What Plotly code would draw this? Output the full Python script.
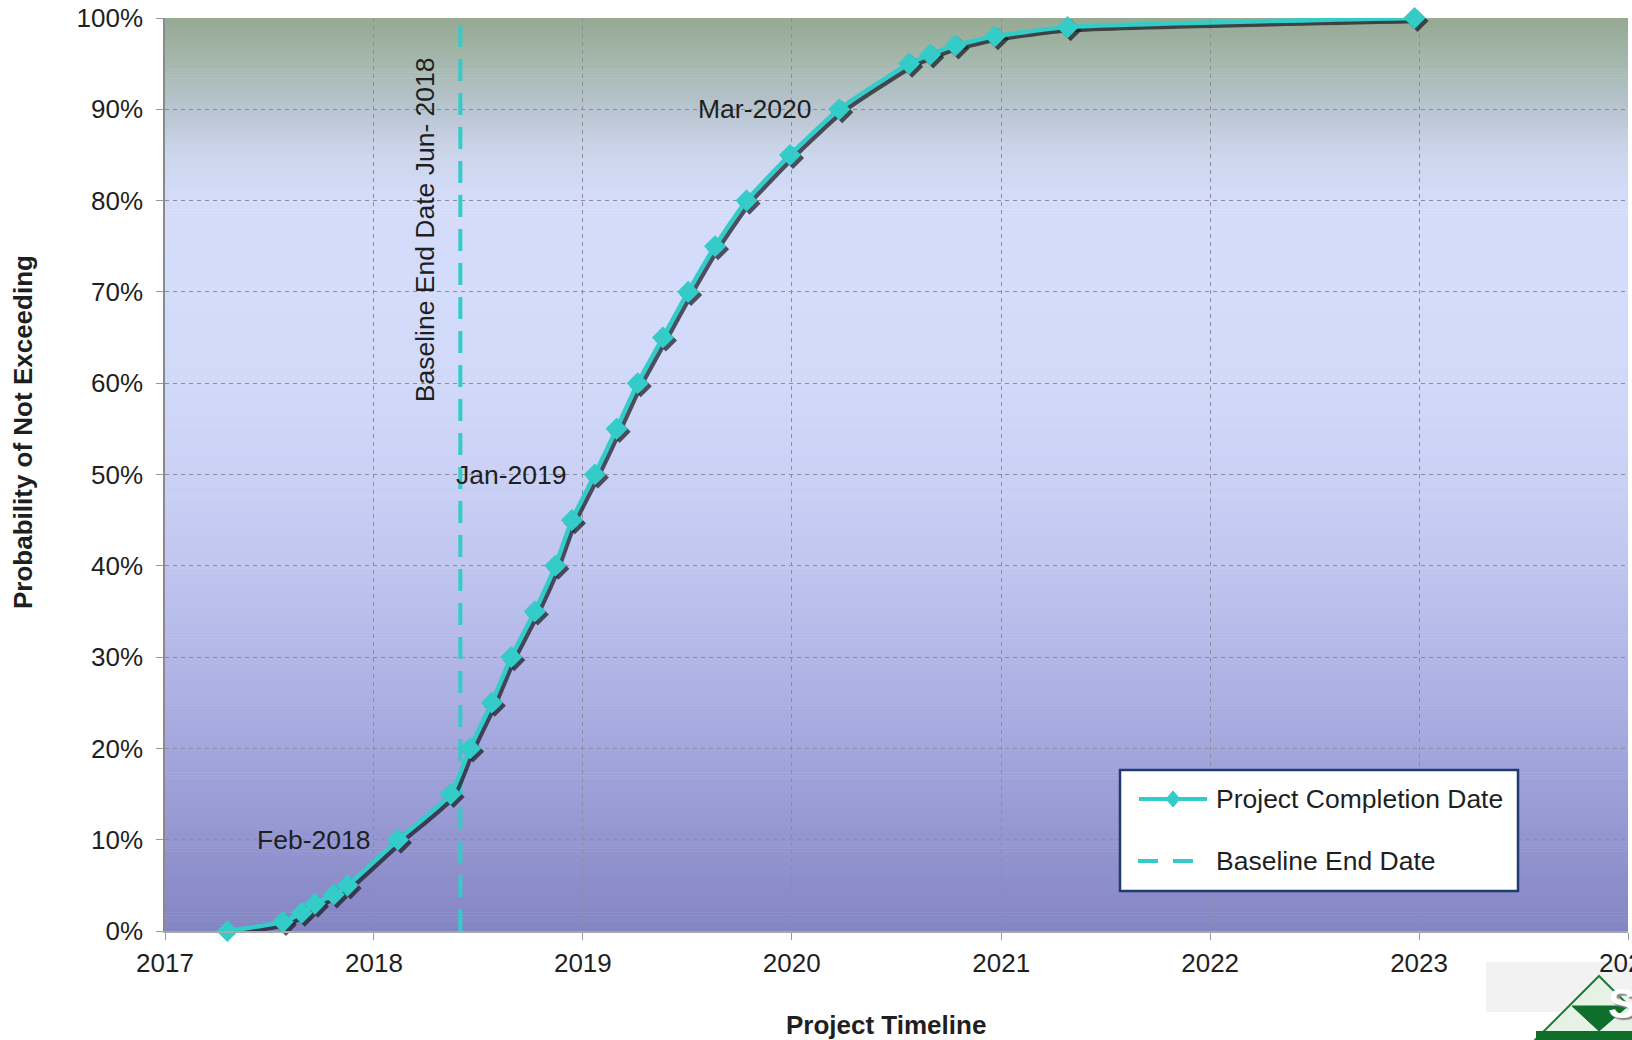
import pandas as pd
import plotly.graph_objects as go

# Cumulative probability of finishing the project by each date
completion_dates = [
    "2017-04-20", "2017-07-26", "2017-08-28", "2017-09-20", "2017-10-23",
    "2017-11-16", "2018-02-12", "2018-05-15", "2018-06-18", "2018-07-26",
    "2018-08-29", "2018-10-09", "2018-11-14", "2018-12-13", "2019-01-22",
    "2019-03-01", "2019-04-07", "2019-05-21", "2019-07-04", "2019-08-20",
    "2019-10-14", "2019-12-29", "2020-03-24", "2020-07-24", "2020-08-30",
    "2020-10-13", "2020-12-21", "2021-04-27", "2022-12-24",
]
probability_pct = [
    0, 1, 2, 3, 4, 5, 10, 15, 20, 25, 30, 35, 40, 45, 50,
    55, 60, 65, 70, 75, 80, 85, 90, 95, 96, 97, 98, 99, 100,
]

baseline_date = "2018-06-01"
baseline_label = "Baseline End Date Jun- 2018"

# Milestone callouts, keyed by the probability level they point at
callout_text = ["Feb-2018", "Jan-2019", "Mar-2020"]
callout_pct = [10, 50, 90]

year_ticks = ["2017", "2018", "2019", "2020", "2021", "2022", "2023", "2024"]
pct_ticks = [0, 10, 20, 30, 40, 50, 60, 70, 80, 90, 100]
pct_tick_text = ["%d%%" % p for p in pct_ticks]

series_name = "Project Completion Date"
baseline_name = "Baseline End Date"
x_title = "Project Timeline"
y_title = "Probability of Not Exceeding"

# ---- figure geometry (pixels) ----
FIG_W, FIG_H = 1632, 1040
L, R, T, B = 165, 4, 18, 109
PW, PH = FIG_W - L - R, FIG_H - T - B

def px(x, y):
    """Pixel position -> paper coordinates."""
    return (x - L) / PW, 1 - (y - T) / PH

TEAL = "#33CCC8"
FONT = "Liberation Sans, Arial, sans-serif"
TXT = "#1f1f1f"

x_start = pd.Timestamp(year_ticks[0] + "-01-01")
x_end = pd.Timestamp(year_ticks[-1] + "-01-01")
x_range = [x_start.isoformat(), x_end.isoformat()]
y_range = [pct_ticks[0], pct_ticks[-1]]

# drop shadow offset: 3 px right / 3 px down
days_per_px = (x_end - x_start) / PW
shadow_dx = days_per_px * 3
shadow_dy = (y_range[1] - y_range[0]) / PH * 3
x_range_shadow = [(x_start - shadow_dx).isoformat(), (x_end - shadow_dx).isoformat()]
y_range_shadow = [y_range[0] + shadow_dy, y_range[1] + shadow_dy]

fig = go.Figure()

# baseline end date (vertical dashed line)
fig.add_trace(go.Scatter(
    x=[baseline_date, baseline_date], y=y_range, mode="lines",
    line=dict(color=TEAL, width=4, dash="22px,12px"),
    hoverinfo="skip", showlegend=False, xaxis="x", yaxis="y",
))

line_style = dict(width=4.5, shape="spline", smoothing=0.5)
MARKER_SIZE = 17

# shadow of the S-curve
fig.add_trace(go.Scatter(
    x=completion_dates, y=probability_pct, mode="lines+markers",
    line=dict(color="rgba(25,25,35,0.72)", **line_style),
    marker=dict(symbol="diamond", size=MARKER_SIZE, color="rgba(25,25,35,0.72)"),
    cliponaxis=False, hoverinfo="skip", showlegend=False,
    xaxis="x2", yaxis="y2",
))

# S-curve
fig.add_trace(go.Scatter(
    x=completion_dates, y=probability_pct, mode="lines+markers",
    name=series_name,
    line=dict(color=TEAL, **line_style),
    marker=dict(symbol="diamond", size=MARKER_SIZE, color=TEAL),
    cliponaxis=False, showlegend=False,
    xaxis="x3", yaxis="y3",
))

# ---- plot background: vertical colour gradient (below the grid) ----
grad_stops = [
    (0.00, (0x84, 0x85, 0xC3)),
    (0.10, (0x94, 0x96, 0xD1)),
    (0.20, (0xA3, 0xA7, 0xDD)),
    (0.30, (0xB2, 0xB7, 0xE7)),
    (0.40, (0xC0, 0xC6, 0xEF)),
    (0.50, (0xCA, 0xD1, 0xF5)),
    (0.60, (0xD1, 0xD9, 0xF9)),
    (0.70, (0xD4, 0xDC, 0xFB)),
    (0.80, (0xD4, 0xDC, 0xFA)),
    (0.85, (0xCC, 0xD6, 0xEC)),
    (0.90, (0xB8, 0xC5, 0xD0)),
    (0.95, (0xA6, 0xB8, 0xAF)),
    (1.00, (0x96, 0xAA, 0x92)),
]

def grad_color(t):
    for (t0, c0), (t1, c1) in zip(grad_stops[:-1], grad_stops[1:]):
        if t0 <= t <= t1:
            f = (t - t0) / (t1 - t0) if t1 > t0 else 0
            return "rgb(%d,%d,%d)" % tuple(round(a + (b - a) * f) for a, b in zip(c0, c1))
    return "rgb(%d,%d,%d)" % grad_stops[-1][1]

shapes = []
n_bands = 300
for i in range(n_bands):
    t0, t1 = i / n_bands, (i + 1) / n_bands
    shapes.append(dict(
        type="rect", xref="paper", yref="paper", layer="below",
        x0=0, x1=1, y0=t0, y1=min(1, t1 + 0.6 / PH),
        fillcolor=grad_color((t0 + t1) / 2), line=dict(width=0),
    ))

# ---- corner logo (kept under the axis labels) ----
gx0, gy0 = px(1486, 1012)
gx1, gy1 = px(1640, 962)
shapes.append(dict(type="rect", xref="paper", yref="paper", layer="below",
                   x0=gx0, x1=gx1, y0=gy0, y1=gy1,
                   fillcolor="#F2F2F2", line=dict(width=0)))
tri = "M {} {} L {} {} L {} {} Z".format(*px(1599, 976), *px(1530, 1045), *px(1668, 1045))
shapes.append(dict(type="path", xref="paper", yref="paper", path=tri, layer="below",
                   fillcolor="#E6F2E6", line=dict(color="#1E7B34", width=2)))
dtri = "M {} {} L {} {} L {} {} Z".format(*px(1572, 1006), *px(1628, 1006), *px(1599, 1031))
shapes.append(dict(type="path", xref="paper", yref="paper", path=dtri, layer="below",
                   fillcolor="#0E6E2A", line=dict(color="#0E6E2A", width=1)))
bb0, bb1 = px(1536, 1041)
bc0, bc1 = px(1640, 1031)
shapes.append(dict(type="rect", xref="paper", yref="paper", layer="below",
                   x0=bb0, x1=bc0, y0=bb1, y1=bc1,
                   fillcolor="#0E6E2A", line=dict(width=0)))

# ---- legend box ----
lx0, ly0 = px(1120, 891)
lx1, ly1 = px(1518, 770)
shapes.append(dict(type="rect", xref="paper", yref="paper",
                   x0=lx0, x1=lx1, y0=ly0, y1=ly1,
                   fillcolor="white", line=dict(color="#1F3B72", width=2.5)))
# solid sample with diamond
ax0, ay = px(1139, 799)
ax1, _ = px(1207, 799)
shapes.append(dict(type="line", xref="paper", yref="paper",
                   x0=ax0, x1=ax1, y0=ay, y1=ay, line=dict(color=TEAL, width=4)))
cx, cy = 1173, 799
dpath = "M {} {} L {} {} L {} {} L {} {} Z".format(
    *px(cx, cy - 8), *px(cx + 7, cy), *px(cx, cy + 8), *px(cx - 7, cy))
shapes.append(dict(type="path", xref="paper", yref="paper", path=dpath,
                   fillcolor=TEAL, line=dict(color=TEAL, width=1)))
# dashed sample
bx0, by = px(1138, 861)
bx1, _ = px(1195, 861)
shapes.append(dict(type="line", xref="paper", yref="paper",
                   x0=bx0, x1=bx1, y0=by, y1=by,
                   line=dict(color=TEAL, width=4, dash="20px,15px")))

# ---- annotations ----
annotations = []
for text, pct in zip(callout_text, callout_pct):
    idx = probability_pct.index(pct)
    annotations.append(dict(
        x=completion_dates[idx], y=pct, xref="x", yref="y",
        text=text, showarrow=False, xanchor="right", yanchor="middle",
        xshift=-26, font=dict(family=FONT, size=26.5, color=TXT),
    ))

annotations.append(dict(
    x=baseline_date, y=76.8, xref="x", yref="y", text=baseline_label,
    showarrow=False, textangle=-90, xanchor="center", yanchor="middle",
    xshift=-36, font=dict(family=FONT, size=26.5, color=TXT),
))

yt_x, yt_y = px(23, 432)
annotations.append(dict(
    x=yt_x, y=yt_y, xref="paper", yref="paper", text="<b>%s</b>" % y_title,
    showarrow=False, textangle=-90, xanchor="center", yanchor="middle",
    font=dict(family=FONT, size=26, color=TXT),
))
xt_x, xt_y = px(886, 1025)
annotations.append(dict(
    x=xt_x, y=xt_y, xref="paper", yref="paper", text="<b>%s</b>" % x_title,
    showarrow=False, xanchor="center", yanchor="middle",
    font=dict(family=FONT, size=26, color=TXT),
))

tx, ty = px(1214, 799)
annotations.append(dict(x=tx, y=ty, xref="paper", yref="paper", text=series_name,
                        showarrow=False, xanchor="left", yanchor="middle",
                        font=dict(family=FONT, size=26.5, color=TXT)))
tx, ty = px(1214, 861)
annotations.append(dict(x=tx, y=ty, xref="paper", yref="paper", text=baseline_name,
                        showarrow=False, xanchor="left", yanchor="middle",
                        font=dict(family=FONT, size=26.5, color=TXT)))

sx, sy = px(1622, 1003)
annotations.append(dict(x=sx, y=sy, xref="paper", yref="paper", text="<b>S</b>",
                        showarrow=False, xanchor="center", yanchor="middle",
                        font=dict(family=FONT, size=42, color="white",
                                  shadow="2px 2px 1px #8a8a8a")))

grid = dict(showgrid=True, gridcolor="#8d8d9a", gridwidth=1, griddash="4px,4px")
tickfont = dict(family=FONT, size=26, color=TXT)

fig.update_layout(
    width=FIG_W, height=FIG_H,
    margin=dict(l=L, r=R, t=T, b=B, pad=0, autoexpand=False),
    paper_bgcolor="white", plot_bgcolor="rgba(0,0,0,0)",
    showlegend=False,
    shapes=shapes, annotations=annotations,
    xaxis=dict(
        type="date", range=x_range,
        tickvals=[y + "-01-01" for y in year_ticks], ticktext=year_ticks,
        ticks="outside", ticklen=7, tickcolor="#9a9a9a", tickwidth=1,
        showline=True, linecolor="#a8a8a8", linewidth=1.5,
        tickfont=tickfont, ticklabelstandoff=1, ticklabeloverflow="allow",
        automargin=False, zeroline=False, **grid,
    ),
    yaxis=dict(
        range=y_range, tickvals=pct_ticks, ticktext=pct_tick_text,
        ticks="outside", ticklen=7, tickcolor="#9a9a9a", tickwidth=1,
        showline=True, linecolor="#8a8a8a", linewidth=1.5,
        tickfont=tickfont, ticklabelstandoff=8, automargin=False,
        zeroline=False, **grid,
    ),
    xaxis2=dict(type="date", range=x_range_shadow, overlaying="x", visible=False),
    yaxis2=dict(range=y_range_shadow, overlaying="y", visible=False),
    xaxis3=dict(type="date", range=x_range, overlaying="x", visible=False),
    yaxis3=dict(range=y_range, overlaying="y", visible=False),
)

fig.write_html("out.html")
